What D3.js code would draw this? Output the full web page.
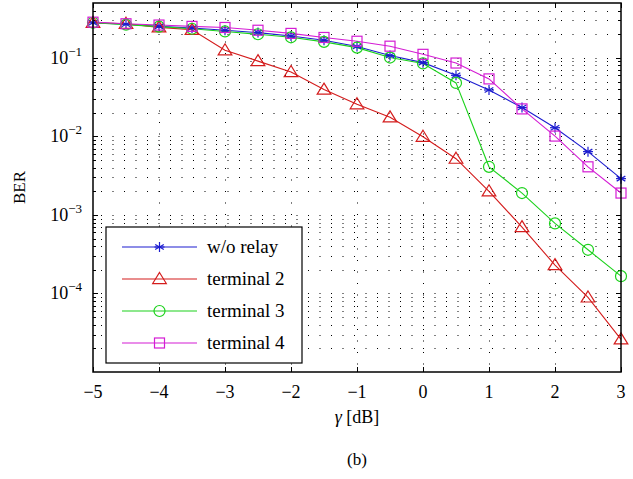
<!DOCTYPE html>
<html>
<head>
<meta charset="utf-8">
<script src="https://cdn.jsdelivr.net/npm/d3@7"></script>
<style>
  body { margin: 0; background: #fff; }
</style>
</head>
<body>
<div id="chart"></div>
<script>
// gamma values in dB
const gammaDb = [-5, -4.5, -4, -3.5, -3, -2.5, -2, -1.5, -1, -0.5, 0, 0.5, 1, 1.5, 2, 2.5, 3];

const berNoRelay = [0.28, 0.268, 0.252, 0.24, 0.225, 0.21, 0.19, 0.168, 0.14, 0.107, 0.087,
  0.060, 0.039, 0.0233, 0.0129, 0.0064, 0.0029];
const berTerminal2 = [0.28, 0.272, 0.245, 0.228, 0.125, 0.091, 0.066, 0.0395, 0.0257, 0.0175, 0.0099,
  0.0052, 0.0020, 0.0007, 0.00023, 0.000089, 0.000026];
const berTerminal3 = [0.28, 0.265, 0.25, 0.235, 0.217, 0.2, 0.183, 0.16, 0.135, 0.101, 0.085,
  0.048, 0.0041, 0.0019, 0.00078, 0.00036, 0.000166];
const berTerminal4 = [0.285, 0.272, 0.262, 0.252, 0.244, 0.225, 0.205, 0.182, 0.163, 0.141, 0.111,
  0.086, 0.054, 0.0224, 0.0101, 0.0041, 0.0019];

const xTicks = [-5, -4, -3, -2, -1, 0, 1, 2, 3];
const yDecades = [-4, -3, -2, -1];

const series = [
  { name: "w/o relay", values: berNoRelay, color: "#1c1cd0", marker: "star" },
  { name: "terminal 2", values: berTerminal2, color: "#d41c1c", marker: "triangle" },
  { name: "terminal 3", values: berTerminal3, color: "#1cd21c", marker: "circle" },
  { name: "terminal 4", values: berTerminal4, color: "#d41cd4", marker: "square" }
];

const FONT = "'Liberation Serif', 'Times New Roman', Times, 'DejaVu Serif', serif";

const width = 633, height = 479;
const margin = { top: 3, right: 12, bottom: 107, left: 93 };
const iw = width - margin.left - margin.right;
const ih = height - margin.top - margin.bottom;

const svg = d3.select("#chart").append("svg")
  .attr("width", width)
  .attr("height", height)
  .attr("font-family", FONT)
  .style("font-family", FONT);

const g = svg.append("g").attr("transform", `translate(${margin.left},${margin.top})`);

const x = d3.scaleLinear().domain([-5, 3]).range([0, iw]);
const y = d3.scaleLog().domain([1e-5, 0.5]).range([ih, 0]);

// minor + major log values inside the domain
const logTicks = [];
for (let e = -5; e <= -1; e++) {
  for (let m = 1; m <= 9; m++) {
    const v = m * Math.pow(10, e);
    if (v > 1e-5 && v < 0.5) logTicks.push({ v, major: m === 1 });
  }
}

// grid (dotted)
const grid = g.append("g").attr("stroke", "#000").attr("stroke-width", 1)
  .attr("stroke-dasharray", "1,10.5");
grid.selectAll("line.h").data(logTicks).enter().append("line")
  .attr("x1", 8).attr("x2", iw)
  .attr("y1", d => Math.round(y(d.v)) + 0.5).attr("y2", d => Math.round(y(d.v)) + 0.5);
grid.selectAll("line.v").data(xTicks.slice(1, -1)).enter().append("line")
  .attr("y1", 4).attr("y2", ih)
  .attr("x1", d => Math.round(x(d)) + 0.5).attr("x2", d => Math.round(x(d)) + 0.5);

// inner ticks
const ticks = g.append("g").attr("stroke", "#000").attr("stroke-width", 1);
xTicks.forEach(t => {
  const px = Math.round(x(t)) + 0.5;
  ticks.append("line").attr("x1", px).attr("x2", px).attr("y1", ih).attr("y2", ih - 5);
  ticks.append("line").attr("x1", px).attr("x2", px).attr("y1", 0).attr("y2", 5);
});
logTicks.forEach(d => {
  const py = Math.round(y(d.v)) + 0.5;
  const len = d.major ? 5 : 3;
  ticks.append("line").attr("x1", 0).attr("x2", len).attr("y1", py).attr("y2", py);
  ticks.append("line").attr("x1", iw).attr("x2", iw - len).attr("y1", py).attr("y2", py);
});

// lines
const line = d3.line().x((d, i) => x(gammaDb[i])).y(d => y(d));
series.forEach(s => {
  g.append("path").datum(s.values)
    .attr("fill", "none").attr("stroke", s.color).attr("stroke-width", 1.1)
    .attr("d", line);
});

function drawMarker(sel, type, color, cx, cy) {
  if (type === "star") {
    const r = 5;
    const p = sel.append("g").attr("stroke", color).attr("stroke-width", 1.2);
    [0, 60, 120].forEach(a => {
      const rad = a * Math.PI / 180;
      p.append("line")
        .attr("x1", cx - r * Math.sin(rad)).attr("y1", cy - r * Math.cos(rad))
        .attr("x2", cx + r * Math.sin(rad)).attr("y2", cy + r * Math.cos(rad));
    });
    p.append("line").attr("x1", cx - r).attr("x2", cx + r).attr("y1", cy).attr("y2", cy);
  } else if (type === "triangle") {
    const s = 6.5;
    sel.append("path")
      .attr("d", `M${cx},${cy - s}L${cx + s * 1.05},${cy + s * 0.7}L${cx - s * 1.05},${cy + s * 0.7}Z`)
      .attr("fill", "none").attr("stroke", color).attr("stroke-width", 1.2);
  } else if (type === "circle") {
    sel.append("circle").attr("cx", cx).attr("cy", cy).attr("r", 5.5)
      .attr("fill", "none").attr("stroke", color).attr("stroke-width", 1.2);
  } else if (type === "square") {
    sel.append("rect").attr("x", cx - 5).attr("y", cy - 5).attr("width", 10).attr("height", 10)
      .attr("fill", "none").attr("stroke", color).attr("stroke-width", 1.2);
  }
}

series.forEach(s => {
  const mg = g.append("g");
  s.values.forEach((v, i) => drawMarker(mg, s.marker, s.color, x(gammaDb[i]), y(v)));
});

// frame
g.append("rect").attr("x", 0).attr("y", 0).attr("width", iw).attr("height", ih)
  .attr("fill", "none").attr("stroke", "#000").attr("stroke-width", 1.5);

// x tick labels
g.selectAll("text.xt").data(xTicks).enter().append("text")
  .attr("x", d => x(d)).attr("y", ih + 26)
  .attr("text-anchor", "middle").attr("font-size", 18)
  .text(d => d < 0 ? "\u2212" + Math.abs(d) : d);

// y tick labels
yDecades.forEach(e => {
  const t = g.append("text").attr("x", -11).attr("y", y(Math.pow(10, e)) + 6)
    .attr("text-anchor", "end").attr("font-size", 18);
  t.append("tspan").text("10");
  t.append("tspan").attr("dy", -8).attr("font-size", 13).text("\u2212" + Math.abs(e));
});

// axis labels
svg.append("text").attr("x", margin.left + iw / 2).attr("y", 423)
  .attr("text-anchor", "middle").attr("font-size", 18)
  .html("<tspan font-style='italic'>\u03b3</tspan> [dB]");
svg.append("text").attr("transform", `translate(25,${margin.top + ih / 2}) rotate(-90)`)
  .attr("text-anchor", "middle").attr("font-size", 17).text("BER");
svg.append("text").attr("x", margin.left + iw / 2).attr("y", 465)
  .attr("text-anchor", "middle").attr("font-size", 17).text("(b)");

// legend
const legend = svg.append("g").attr("transform", "translate(106,227)");
legend.append("rect").attr("x", 0).attr("y", 0).attr("width", 196).attr("height", 136)
  .attr("fill", "#fff").attr("stroke", "#000").attr("stroke-width", 1.2);
series.forEach((s, i) => {
  const ly = 20 + i * 32;
  legend.append("line").attr("x1", 16).attr("x2", 91).attr("y1", ly).attr("y2", ly)
    .attr("stroke", s.color).attr("stroke-width", 1.2);
  drawMarker(legend, s.marker, s.color, 53.5, ly);
  legend.append("text").attr("x", 101).attr("y", ly + 6).attr("font-size", 19).text(s.name);
});
</script>
</body>
</html>
